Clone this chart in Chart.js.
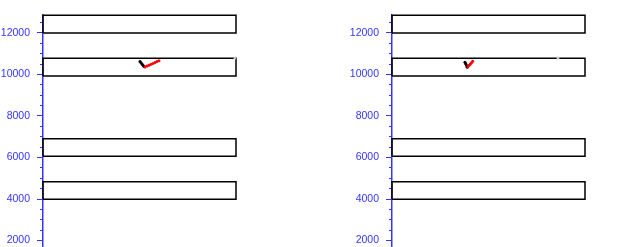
<!DOCTYPE html>
<html>
<head>
<meta charset="utf-8">
<script src="https://cdn.jsdelivr.net/npm/chart.js@4.4.0/dist/chart.umd.min.js"></script>
<style>
  body { margin: 0; background: #fff; overflow: hidden; }
  canvas { position: absolute; top: 0; }
</style>
</head>
<body>
<canvas id="leftChart" width="240" height="247" style="left:0px"></canvas>
<canvas id="rightChart" width="240" height="247" style="left:349px"></canvas>
<script>
// y-as bereik en tick waarden
const yMin = 1687;
const yMax = 12867;
const majorTicks = [2000, 4000, 6000, 8000, 10000, 12000];
const minorTicks = [2000, 2500, 3000, 3500, 4000, 4500, 5000, 5500, 6000, 6500, 7000, 7500,
                    8000, 8500, 9000, 9500, 10000, 10500, 11000, 11500, 12000, 12500];

// rechthoeken (onder- en bovengrens), gelijk in beide panelen
const boxLows = [12000, 9930, 6060, 3990];
const boxHighs = [12860, 10780, 6905, 4835];

// linker paneel
const leftBlackX = [50.26, 50.78, 51.30, 51.81, 52.33];
const leftBlackY = [10626, 10564, 10506, 10443, 10385];
const leftRedX = [52.85, 53.89, 54.92, 55.96, 57.0, 58.03, 59.07, 60.1];
const leftRedY = [10361, 10410, 10448, 10492, 10535, 10578, 10622, 10660];
const leftGrayX = [99.5];
const leftGrayY = [10795];

// rechter paneel
const rightBlackX = [37.82, 38.13, 38.45, 38.76, 39.02];
const rightBlackY = [10588, 10530, 10467, 10410, 10347];
const rightRedX = [39.38, 40.0, 40.62, 41.19, 41.81];
const rightRedY = [10386, 10448, 10506, 10569, 10636];
const rightGrayX = [86.0];
const rightGrayY = [10795];

const blue = '#3535ff';

function toPoints(xs, ys) {
    return xs.map((x, i) => ({ x: x, y: ys[i] }));
}

function boxDatasets() {
    return boxLows.map((lo, i) => ({
        type: 'line',
        data: [
            { x: 0, y: lo }, { x: 100, y: lo }, { x: 100, y: boxHighs[i] },
            { x: 0, y: boxHighs[i] }, { x: 0, y: lo }
        ],
        borderColor: '#000',
        borderWidth: 1.5,
        pointRadius: 0,
        fill: false,
        tension: 0,
        clip: false
    }));
}

function pointSet(xs, ys, color) {
    return {
        data: toPoints(xs, ys),
        backgroundColor: color,
        borderColor: color,
        pointRadius: 1.5,
        borderWidth: 0
    };
}

// vaste tick posities
function setTicks(values) {
    return function(axis) {
        axis.ticks = values.map(v => ({ value: v }));
    };
}

// geen extra ruimte boven/onder de as
function zeroPad(axis) {
    axis.paddingTop = 0;
    axis.paddingBottom = 0;
}

function makeChart(id, blackX, blackY, redX, redY, grayX, grayY) {
    const ctx = document.getElementById(id).getContext('2d');
    return new Chart(ctx, {
        type: 'scatter',
        data: {
            datasets: [
                pointSet(redX, redY, '#ff0000'),
                pointSet(blackX, blackY, '#000000'),
                pointSet(grayX, grayY, '#c8c8c8')
            ].concat(boxDatasets())
        },
        options: {
            responsive: false,
            animation: false,
            layout: { autoPadding: false, padding: { top: 15, right: 4, bottom: 0, left: 0 } },
            plugins: { legend: { display: false }, tooltip: { enabled: false } },
            scales: {
                x: { type: 'linear', min: 0, max: 100, display: false },
                y: {
                    type: 'linear', position: 'left', weight: 0, z: 1,
                    min: yMin, max: yMax,
                    ticks: { display: false },
                    grid: { drawOnChartArea: false, tickLength: 3, tickColor: blue, tickWidth: 1 },
                    border: { color: blue, width: 1.5 },
                    afterBuildTicks: setTicks(minorTicks),
                    afterFit: function(axis) { zeroPad(axis); axis.width = 3; }
                },
                y2: {
                    type: 'linear', position: 'left', weight: 1,
                    min: yMin, max: yMax,
                    ticks: {
                        padding: 7,
                        color: blue,
                        font: { family: 'Liberation Sans', size: 10.5 },
                        callback: v => String(v)
                    },
                    grid: { drawOnChartArea: false, tickLength: 3, tickColor: blue, tickWidth: 1 },
                    border: { display: false },
                    afterBuildTicks: setTicks(majorTicks),
                    afterFit: function(axis) { zeroPad(axis); axis.width = 40; }
                }
            }
        }
    });
}

makeChart('leftChart', leftBlackX, leftBlackY, leftRedX, leftRedY, leftGrayX, leftGrayY);
makeChart('rightChart', rightBlackX, rightBlackY, rightRedX, rightRedY, rightGrayX, rightGrayY);
</script>
</body>
</html>
